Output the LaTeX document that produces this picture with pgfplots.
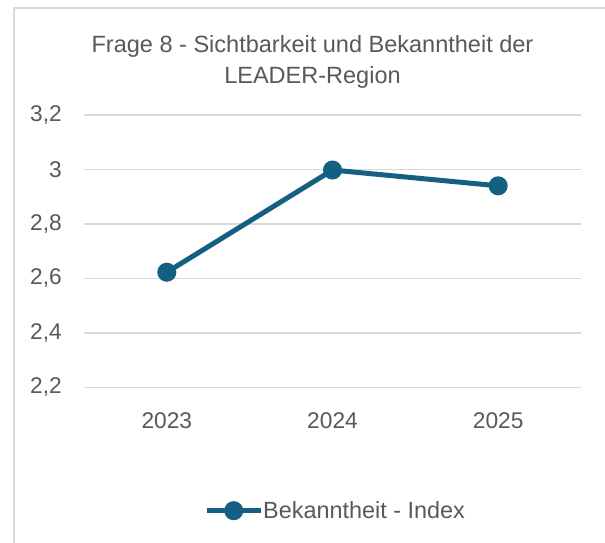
\documentclass[border=0pt]{standalone}
\usepackage{fontspec}
\setmainfont{Liberation Sans}
\usepackage{pgfplots}
\pgfplotsset{compat=1.18}
\definecolor{linec}{HTML}{156082}
\definecolor{txt}{HTML}{595959}
\definecolor{gridc}{HTML}{D9D9D9}
\begin{document}
\begin{tikzpicture}[x=1bp,y=1bp]
\useasboundingbox (0,0) rectangle (605,543);
\fill[white] (0,0) rectangle (605,543);
\draw[gridc, line width=1.5bp] (14,0) -- (14,535) -- (605,535);
\node[anchor=base, text=txt, font=\fontsize{23.6}{23.6}\selectfont, inner sep=0pt] at (312.5,490) {Frage 8 - Sichtbarkeit und Bekanntheit der};
\node[anchor=base, text=txt, font=\fontsize{23.6}{23.6}\selectfont, inner sep=0pt] at (312.5,459) {LEADER-Region};
\begin{axis}[at={(84bp,155.5bp)}, anchor=south west, scale only axis,
  width=497bp, height=272.5bp,
  xmin=-0.5, xmax=2.5, ymin=2.2, ymax=3.2,
  xtick={0,1,2}, xticklabels={2023,2024,2025},
  ytick={2.2,2.4,2.6,2.8,3,3.2},
  yticklabels={{2,2},{2,4},{2,6},{2,8},3,{3,2}},
  axis line style={draw=none}, major tick length=0pt,
  ymajorgrids, grid style={gridc, line width=1.4bp},
  tick label style={font=\fontsize{22.8}{22.8}\selectfont, text=txt},
  yticklabel style={inner sep=0pt, xshift=-22bp},
  xticklabel style={inner sep=0pt, yshift=-25bp},
  legend style={at={(axis description cs:0.2415,-0.452)}, anchor=west, draw=none, fill=none,
    font=\fontsize{23.5}{23.5}\selectfont, text=txt, inner sep=0pt, nodes={inner sep=0pt}},
  legend image code/.code={\draw[#1, mark repeat=2, mark phase=2] plot coordinates {(0bp,0bp) (27bp,0bp) (54bp,0bp)};},
  legend cell align=left,
  legend columns=1,
  /tikz/every even column/.append style={column sep=4bp},
]
\addplot[linec, line width=5bp, mark=*, mark size=7bp, mark options={solid, fill=linec, draw=none}] coordinates {(0,2.623) (1,2.998) (2,2.94)};
\addlegendentry{Bekanntheit - Index}
\end{axis}
\end{tikzpicture}
\end{document}
